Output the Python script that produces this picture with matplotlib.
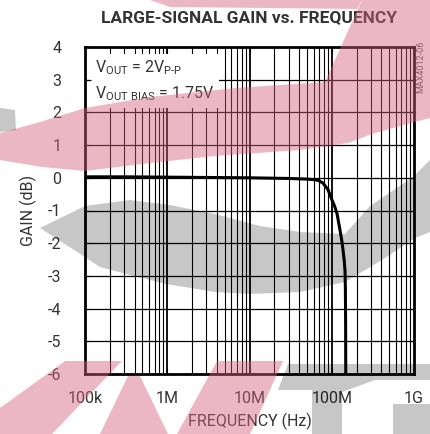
import numpy as np
import matplotlib
matplotlib.use("Agg")
import matplotlib.pyplot as plt
from matplotlib.patches import Polygon

plt.rcParams['font.family'] = ['Roboto', 'DejaVu Sans']
plt.rcParams['axes.unicode_minus'] = False
plt.rcParams['mathtext.fontset'] = 'custom'
plt.rcParams['mathtext.rm'] = 'Roboto'
plt.rcParams['mathtext.it'] = 'Roboto'

# Datos de la curva
freq_hz = [1e5, 3e5, 1e6, 3e6, 1e7, 3e7, 5e7, 6.3e7, 7e7, 7.8e7, 9e7, 1.0e8, 1.08e8,
           1.16e8, 1.26e8, 1.32e8, 1.37e8, 1.42e8, 1.45e8, 1.465e8, 1.475e8, 1.48e8]
gain_db = [0.03, 0.03, 0.02, 0.01, 0.0, -0.02, -0.04, -0.06, -0.09, -0.16, -0.36, -0.66, -0.86,
           -1.1, -1.6, -1.9, -2.2, -2.55, -2.85, -3.4, -4.5, -6.0]

y_ticks = [4, 3, 2, 1, 0, -1, -2, -3, -4, -5, -6]
x_ticks = [1e5, 1e6, 1e7, 1e8, 1e9]
x_labels = ['100k', '1M', '10M', '100M', '1G']

W, H = 430, 434
fig = plt.figure(figsize=(W / 100, H / 100), dpi=100)
ax = fig.add_axes([85 / W, 1 - 374 / H, 329 / W, 327 / H])

# Rejilla (líneas menores de cada década y líneas de ganancia)
for dec in range(5, 9):
    for m in range(2, 10):
        ax.axvline(m * 10.0 ** dec, color='black', lw=0.8, zorder=0.5)
    if dec > 5:
        ax.axvline(10.0 ** dec, color='black', lw=1.3, zorder=0.5)
for yv in y_ticks[1:-1]:
    ax.axhline(yv, color='black', lw=0.9, zorder=0.5)

ax.semilogx(freq_hz, gain_db, color='black', lw=2.2, zorder=3, solid_capstyle='butt')

ax.set_xlim(1e5, 1e9)
ax.set_ylim(-6, 4)
ax.set_xticks(x_ticks)
ax.set_xticklabels(x_labels)
ax.set_yticks(y_ticks)
ax.minorticks_off()
ax.tick_params(direction='in', length=4, width=0.8, labelsize=11.5, pad=12,
               top=True, right=True, colors='black', labelcolor='#333333')
ax.tick_params(axis='y', pad=17)
for s in ax.spines.values():
    s.set_linewidth(2.0)

ax.text(0.03, 0.965, '$\\mathregular{V_{OUT}}$ = 2$\\mathregular{V_{P\\text{-}P}}$\n'
        '$\\mathregular{V_{OUT\\ BIAS}}$ = 1.75V',
        transform=ax.transAxes, ha='left', va='top', fontsize=11.5, color='#333333',
        linespacing=1.5, zorder=1,
        bbox=dict(boxstyle='square,pad=0.3', fc='white', ec='none'))

ax.set_xlabel('FREQUENCY (Hz)', fontsize=11.5, color='#333333', labelpad=5)
ax.set_ylabel('GAIN (dB)', fontsize=11.5, color='#333333', labelpad=8)
fig.text(249 / W, 1 - 18 / H, 'LARGE-SIGNAL GAIN vs. FREQUENCY', ha='center', va='center',
         fontsize=12.5, fontweight='bold', color='#333333')
fig.text(421 / W, 1 - 67 / H, 'MAX4012-06', rotation=90, ha='center', va='center',
         fontsize=6.5, color='#555555')

# Marca de agua (rosa y gris) encima del gráfico
pink = [
    [(0, 133), (40, 122), (85, 108), (150, 97), (235, 88), (325, 82), (362, 0), (430, 0),
     (430, 118), (400, 126), (372, 134), (348, 143), (300, 150), (215, 156), (150, 163),
     (85, 171), (42, 167), (0, 160)],
    [(150, 0), (362, 0), (357, 9), (170, 7)],
    [(65, 361), (122, 361), (52, 434), (0, 434), (0, 408)],
    [(128, 376), (140, 376), (168, 434), (100, 434)],
    [(217, 361), (283, 361), (250, 434), (177, 434)],
]
gray = [
    [(0, 108), (15, 110), (16, 130), (0, 132)],
    [(40, 228), (85, 206), (130, 200), (170, 205), (215, 214), (260, 226), (300, 232),
     (345, 234), (370, 206), (413, 177), (430, 160), (430, 232), (415, 238), (382, 260),
     (345, 282), (300, 292), (250, 294), (215, 292), (166, 284), (130, 275), (100, 267),
     (85, 257)],
    [(288, 364), (430, 364), (430, 380), (375, 380), (342, 392), (342, 434), (312, 434),
     (312, 390), (278, 390)],
    [(393, 404), (430, 404), (430, 434), (393, 434)],
]
for poly in pink:
    pts = [(x / W, 1 - y / H) for x, y in poly]
    fig.patches.append(Polygon(pts, closed=True, transform=fig.transFigure,
                               fc=(0.84, 0.38, 0.49), ec='none', alpha=0.45, zorder=10))
for poly in gray:
    pts = [(x / W, 1 - y / H) for x, y in poly]
    fig.patches.append(Polygon(pts, closed=True, transform=fig.transFigure,
                               fc='black', ec='none', alpha=0.22, zorder=10))

fig.savefig('out.png', dpi=100)
